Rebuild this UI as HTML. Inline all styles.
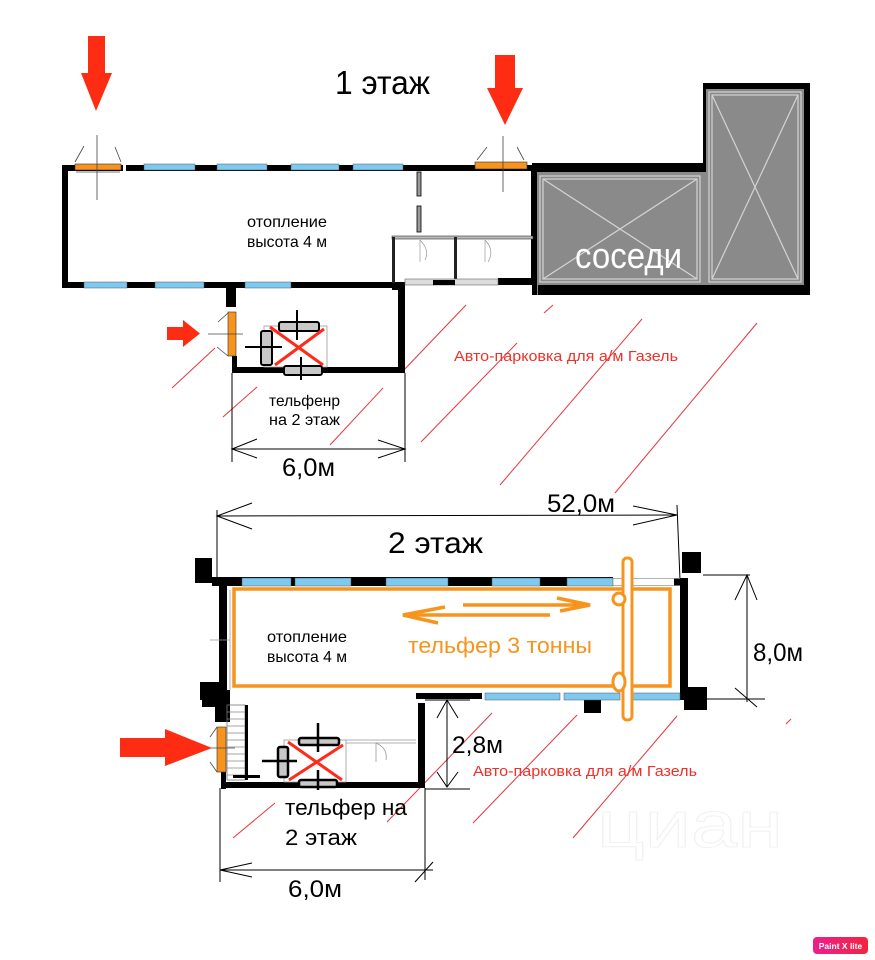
<!DOCTYPE html>
<html><head><meta charset="utf-8"><style>
html,body{margin:0;padding:0;background:#fff;}
svg{display:block;}
text{font-family:"Liberation Sans","DejaVu Sans",sans-serif;}
</style></head><body>
<svg width="875" height="960" viewBox="0 0 875 960" xmlns="http://www.w3.org/2000/svg">
<defs>
<linearGradient id="pg" x1="0" y1="0" x2="1" y2="0"><stop offset="0" stop-color="#ec1f8f"/><stop offset="1" stop-color="#f2243e"/></linearGradient>
</defs>
<rect width="875" height="960" fill="#fff"/>

<!-- watermark -->
<text x="597" y="847" font-size="66" fill="none" stroke="#f1f1f1" stroke-width="1" textLength="186" lengthAdjust="spacingAndGlyphs">циан</text>

<!-- red parking diagonals -->
<g stroke="#e8343c" stroke-width="1" fill="none">
<line x1="172" y1="388" x2="215" y2="348"/>
<line x1="223" y1="417" x2="257" y2="387"/>
<line x1="330" y1="445" x2="383" y2="388"/>
<line x1="402" y1="372" x2="466" y2="305"/>
<line x1="421" y1="442" x2="517" y2="343"/>
<line x1="500" y1="485" x2="642" y2="319"/>
<line x1="615" y1="493" x2="757" y2="323"/>
<line x1="544" y1="313" x2="553" y2="305"/>
<line x1="387" y1="822" x2="492" y2="713"/>
<line x1="473" y1="823" x2="577" y2="715"/>
<line x1="573" y1="838" x2="677" y2="716"/>
<line x1="233" y1="838" x2="275" y2="803"/>
<line x1="786" y1="724" x2="791" y2="719"/>
</g>

<!-- ========== FLOOR 1 ========== -->
<polygon points="88,36 105,36 105,73 112,73 96,111 81,73 88,73" fill="#fe2c12"/>
<polygon points="495,55 515,55 515,88 523,88 505,125 487,88 495,88" fill="#fe2c12"/>
<polygon points="167,327 183,327 183,320 200,333.5 183,347 183,340 167,340" fill="#fe2c12"/>

<text x="335" y="94" font-size="33" fill="#000" textLength="95" lengthAdjust="spacingAndGlyphs">1 этаж</text>

<!-- neighbours -->
<rect x="532" y="168" width="173" height="127" fill="#8a8a8a"/>
<rect x="703" y="83" width="107" height="212" fill="#8a8a8a"/>
<g stroke="#d4d4d4" stroke-width="1.2" fill="none">
<rect x="540" y="176" width="160" height="106"/>
<rect x="543" y="179" width="154" height="100"/>
<rect x="709" y="92" width="92" height="190"/>
<rect x="712" y="95" width="86" height="184"/>
<line x1="543" y1="179" x2="697" y2="279"/>
<line x1="697" y1="179" x2="543" y2="279"/>
<line x1="712" y1="95" x2="798" y2="279"/>
<line x1="798" y1="95" x2="712" y2="279"/>
</g>
<g fill="#000">
<rect x="532" y="163" width="173" height="9"/>
<rect x="703" y="83" width="107" height="6"/>
<rect x="703" y="83" width="3" height="89"/>
<rect x="804" y="83" width="6" height="212"/>
<rect x="538" y="285" width="272" height="10"/>
<rect x="532" y="163" width="5" height="132"/>
</g>
<text x="575" y="268" font-size="36" fill="#fff" textLength="107" lengthAdjust="spacingAndGlyphs">соседи</text>

<!-- main hall walls -->
<g fill="#000">
<rect x="62" y="165" width="470" height="6"/>
<rect x="62" y="165" width="6" height="123"/>
<rect x="62" y="282" width="343" height="6"/>
<rect x="531" y="170" width="5" height="115"/>
<rect x="498" y="278" width="37" height="7"/>
<rect x="392" y="282" width="13" height="8"/>
</g>
<rect x="123" y="165" width="3" height="6" fill="#fff"/>
<g fill="#7dc9ef" stroke="#555" stroke-width="0.5">
<rect x="144" y="164" width="51" height="6"/>
<rect x="217" y="164" width="50" height="6"/>
<rect x="291" y="164" width="48" height="6"/>
<rect x="353" y="164" width="50" height="6"/>
<rect x="84" y="282" width="43" height="6"/>
<rect x="155" y="282" width="49" height="6"/>
<rect x="245" y="282" width="46" height="6"/>
</g>
<g fill="#f7941d" stroke="#333" stroke-width="0.6">
<rect x="75" y="164" width="46" height="6"/>
<rect x="475" y="162" width="52" height="7"/>
</g>
<g stroke="#444" stroke-width="0.8" fill="none">
<line x1="75" y1="162" x2="84" y2="146"/>
<line x1="121" y1="162" x2="115" y2="147"/>
<line x1="97" y1="135" x2="97" y2="200"/>
<line x1="76" y1="172" x2="120" y2="172"/>
<line x1="503" y1="136" x2="503" y2="192"/>
<line x1="487" y1="147" x2="477" y2="160"/>
<line x1="517" y1="147" x2="524" y2="160"/>
</g>
<rect x="417" y="172" width="4" height="24" fill="#9a9a9a" stroke="#000" stroke-width="0.8"/>
<rect x="417" y="206" width="4" height="26" fill="#9a9a9a" stroke="#000" stroke-width="0.8"/>
<rect x="392" y="236" width="141" height="3" fill="#bbb" stroke="#333" stroke-width="0.6"/>
<rect x="392" y="237" width="3" height="46" fill="#222"/>
<rect x="454" y="237" width="3" height="45" fill="#222"/>
<rect x="405" y="279" width="93" height="6" fill="#ddd" stroke="#666" stroke-width="0.6"/>
<rect x="433" y="280" width="22" height="5" fill="#000"/>
<g stroke="#888" stroke-width="0.6" fill="none">
<path d="M420,240 Q430,250 425,260"/>
<path d="M485,240 Q495,250 488,262"/>
<line x1="420" y1="240" x2="420" y2="262"/>
<line x1="485" y1="240" x2="485" y2="262"/>
</g>

<text x="247" y="227" font-size="16" fill="#000" textLength="80" lengthAdjust="spacingAndGlyphs">отопление</text>
<text x="247" y="247" font-size="16" fill="#000" textLength="80" lengthAdjust="spacingAndGlyphs">высота 4 м</text>

<!-- extension floor 1 -->
<g fill="#000">
<rect x="226" y="288" width="10" height="19"/>
<rect x="232" y="356" width="5" height="17"/>
<rect x="232" y="367" width="173" height="6"/>
<rect x="398" y="288" width="7" height="85"/>
</g>
<rect x="228" y="312" width="8" height="44" fill="#f7941d" stroke="#333" stroke-width="0.6"/>
<g stroke="#444" stroke-width="0.8">
<line x1="228" y1="313" x2="218" y2="322"/>
<line x1="228" y1="356" x2="217" y2="347"/>
<line x1="208" y1="334" x2="243" y2="334"/>
</g>
<rect x="264" y="326" width="63" height="41" fill="none" stroke="#999" stroke-width="0.8"/>
<g fill="#c8c8c8" stroke="#000" stroke-width="2">
<rect x="279" y="322" width="40" height="9" rx="2"/>
<rect x="261" y="331" width="11" height="34" rx="2"/>
<rect x="284" y="366" width="38" height="9" rx="2"/>
</g>
<g stroke="#000" stroke-width="2">
<line x1="297" y1="310" x2="297" y2="340"/>
<line x1="245" y1="347" x2="282" y2="347"/>
<line x1="301" y1="357" x2="301" y2="380"/>
</g>
<g stroke="#ff2a1a" stroke-width="3">
<line x1="270" y1="327" x2="323" y2="365"/>
<line x1="324" y1="329" x2="275" y2="365"/>
</g>
<text x="269" y="406" font-size="16" fill="#000" textLength="71" lengthAdjust="spacingAndGlyphs">тельфенр</text>
<text x="269" y="425" font-size="16" fill="#000" textLength="71" lengthAdjust="spacingAndGlyphs">на 2 этаж</text>
<g stroke="#000" stroke-width="1" fill="none">
<line x1="232" y1="373" x2="232" y2="462"/>
<line x1="405" y1="373" x2="405" y2="462"/>
<line x1="232" y1="449" x2="405" y2="449"/>
<polyline points="257,439 232,449 257,458"/>
<polyline points="378,440 405,449 378,458"/>
</g>
<text x="282" y="476" font-size="25" fill="#000" textLength="53" lengthAdjust="spacingAndGlyphs">6,0м</text>
<text x="454" y="361" font-size="15" fill="#f0302a" textLength="224" lengthAdjust="spacingAndGlyphs">Авто-парковка для а/м Газель</text>

<!-- ========== FLOOR 2 ========== -->
<g stroke="#000" stroke-width="1" fill="none">
<line x1="217" y1="516" x2="677" y2="515"/>
<line x1="217" y1="510" x2="217" y2="580"/>
<line x1="677" y1="505" x2="680" y2="580"/>
<polyline points="252,503 217,516 252,529"/>
<polyline points="633,506 677,515 633,525"/>
</g>
<text x="547" y="512" font-size="25" fill="#000" textLength="68" lengthAdjust="spacingAndGlyphs">52,0м</text>
<text x="388" y="553" font-size="30" fill="#000" textLength="95" lengthAdjust="spacingAndGlyphs">2 этаж</text>

<g fill="#000">
<rect x="195" y="558" width="17" height="25"/>
<rect x="212" y="577" width="401" height="9"/>
<rect x="219" y="577" width="8" height="123"/>
<rect x="200" y="682" width="22" height="18"/>
<rect x="202" y="690" width="28" height="17"/>
<rect x="215" y="707" width="15" height="15"/>
<rect x="221" y="772" width="5" height="17"/>
<rect x="221" y="782" width="204" height="6"/>
<rect x="418" y="703" width="7" height="85"/>
<rect x="416" y="693" width="66" height="6"/>
<rect x="584" y="700" width="17" height="13"/>
<rect x="680" y="578" width="8" height="122"/>
<rect x="682" y="552" width="19" height="21"/>
<rect x="684" y="687" width="23" height="23"/>
<rect x="674" y="578" width="6" height="8"/>
</g>
<g stroke="#999" stroke-width="0.8" fill="none">
<line x1="613" y1="578.5" x2="680" y2="578.5"/>
<line x1="613" y1="585.5" x2="680" y2="585.5"/>
<line x1="230" y1="590" x2="230" y2="690"/>
<line x1="210" y1="640" x2="230" y2="640"/>
<line x1="346" y1="740" x2="416" y2="740"/>
<line x1="346" y1="743" x2="416" y2="743"/>
<path d="M376,743 Q388,748 386,760"/>
<line x1="376" y1="743" x2="376" y2="762"/>
</g>
<g fill="#7dc9ef" stroke="#555" stroke-width="0.5">
<rect x="242" y="578" width="49" height="8"/>
<rect x="295" y="578" width="56" height="8"/>
<rect x="386" y="578" width="62" height="8"/>
<rect x="492" y="578" width="48" height="8"/>
<rect x="567" y="578" width="46" height="8"/>
<rect x="485" y="693" width="75" height="7"/>
<rect x="564" y="693" width="56" height="7"/>
<rect x="632" y="693" width="48" height="7"/>
</g>
<rect x="227" y="705" width="18" height="75" fill="none" stroke="#777" stroke-width="0.8"/>
<g stroke="#888" stroke-width="0.7">
<line x1="227" y1="712" x2="245" y2="712"/><line x1="227" y1="719" x2="245" y2="719"/>
<line x1="227" y1="726" x2="245" y2="726"/><line x1="227" y1="733" x2="245" y2="733"/>
<line x1="227" y1="740" x2="245" y2="740"/><line x1="227" y1="747" x2="245" y2="747"/>
<line x1="227" y1="754" x2="245" y2="754"/><line x1="227" y1="761" x2="245" y2="761"/>
<line x1="227" y1="768" x2="245" y2="768"/><line x1="227" y1="775" x2="245" y2="775"/>
</g>
<rect x="245" y="705" width="3" height="75" fill="#000"/>
<rect x="233" y="775" width="27" height="3" fill="#000"/>
<rect x="217" y="727" width="9" height="45" fill="#f7941d" stroke="#333" stroke-width="0.6"/>
<g stroke="#444" stroke-width="0.8">
<line x1="217" y1="727" x2="210" y2="737"/>
<line x1="217" y1="772" x2="210" y2="762"/>
<line x1="205" y1="748" x2="235" y2="748"/>
</g>
<rect x="284" y="740" width="62" height="42" fill="none" stroke="#999" stroke-width="0.8"/>
<g fill="#c8c8c8" stroke="#000" stroke-width="2.5">
<rect x="299" y="738" width="40" height="7" rx="2"/>
<rect x="278" y="747" width="10" height="30" rx="2"/>
<rect x="299" y="780" width="38" height="7" rx="2"/>
</g>
<g stroke="#000" stroke-width="2.5">
<line x1="318" y1="723" x2="318" y2="752"/>
<line x1="262" y1="761" x2="297" y2="761"/>
<line x1="318" y1="770" x2="318" y2="790"/>
</g>
<g stroke="#ff2a1a" stroke-width="3">
<line x1="288" y1="742" x2="342" y2="780"/>
<line x1="343" y1="745" x2="289" y2="780"/>
</g>
<polygon points="120,738 165,738 165,729 212,748 165,766 165,757 120,757" fill="#fe2c12"/>

<text x="267" y="642" font-size="16" fill="#000" textLength="80" lengthAdjust="spacingAndGlyphs">отопление</text>
<text x="267" y="662" font-size="16" fill="#000" textLength="80" lengthAdjust="spacingAndGlyphs">высота 4 м</text>

<g stroke="#f7941d" fill="none" stroke-width="3.5">
<rect x="234" y="589" width="436" height="97"/>
<line x1="403" y1="615" x2="550" y2="615"/>
<polyline points="445,607 403,615 438,623"/>
<line x1="463" y1="605" x2="590" y2="605"/>
<polyline points="557,598 590,605 560,611"/>
</g>
<rect x="623" y="558" width="9" height="162" rx="4" fill="#fff" stroke="#f7941d" stroke-width="3"/>
<circle cx="619" cy="599" r="6" fill="#fff" stroke="#f7941d" stroke-width="3"/>
<ellipse cx="619" cy="682" rx="6" ry="9" fill="#fff" stroke="#f7941d" stroke-width="3"/>
<text x="408" y="653" font-size="22" fill="#f7941d" textLength="184" lengthAdjust="spacingAndGlyphs">тельфер 3 тонны</text>

<g stroke="#000" stroke-width="1" fill="none">
<line x1="703" y1="575" x2="750" y2="575"/>
<line x1="705" y1="699" x2="765" y2="699"/>
<line x1="747" y1="575" x2="747" y2="702"/>
<polyline points="735,600 747,575 757,600"/>
<line x1="735" y1="688" x2="757" y2="707"/>
</g>
<text x="753" y="661" font-size="25" fill="#000" textLength="50" lengthAdjust="spacingAndGlyphs">8,0м</text>

<g stroke="#000" stroke-width="1" fill="none">
<line x1="425" y1="700" x2="470" y2="700"/>
<line x1="425" y1="789" x2="470" y2="789"/>
<line x1="447" y1="700" x2="447" y2="787"/>
<polyline points="437,718 447,700 458,718"/>
<polyline points="437,772 447,787 458,772"/>
</g>
<text x="452" y="753" font-size="24" fill="#000" textLength="51" lengthAdjust="spacingAndGlyphs">2,8м</text>
<text x="473" y="776" font-size="15" fill="#f0302a" textLength="224" lengthAdjust="spacingAndGlyphs">Авто-парковка для а/м Газель</text>

<text x="285" y="815" font-size="22" fill="#000" textLength="122" lengthAdjust="spacingAndGlyphs">тельфер на</text>
<text x="285" y="845" font-size="22" fill="#000" textLength="72" lengthAdjust="spacingAndGlyphs">2 этаж</text>

<g stroke="#000" stroke-width="1" fill="none">
<line x1="220" y1="788" x2="220" y2="882"/>
<line x1="425" y1="788" x2="425" y2="880"/>
<line x1="220" y1="870" x2="433" y2="870"/>
<polyline points="252,863 220,870 252,877"/>
<line x1="415" y1="882" x2="433" y2="862"/>
</g>
<text x="288" y="897" font-size="24" fill="#000" textLength="54" lengthAdjust="spacingAndGlyphs">6,0м</text>

<rect x="813" y="937" width="55" height="17" rx="4" fill="url(#pg)"/>
<text x="840.5" y="949" font-size="8.5" font-weight="bold" fill="#fff" text-anchor="middle">Paint X lite</text>
</svg>
</body></html>
